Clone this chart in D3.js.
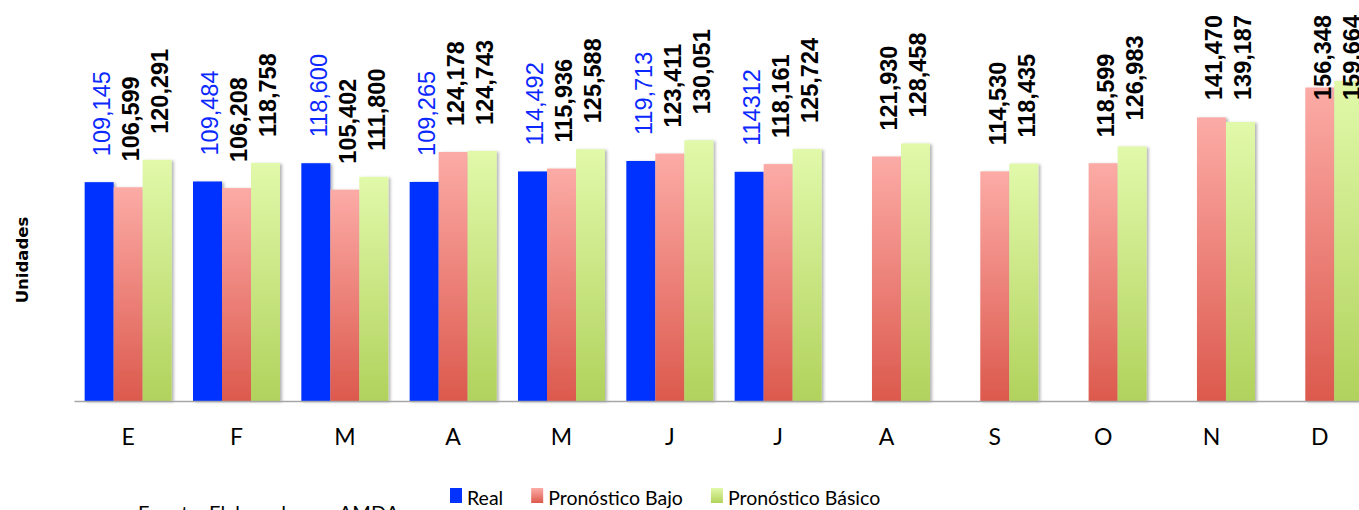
<!DOCTYPE html>
<html>
<head>
<meta charset="utf-8">
<script src="https://cdn.jsdelivr.net/npm/d3@7"></script>
<style>
  body { margin: 0; background: #fff; }
  svg { display: block; }
</style>
</head>
<body>
<svg width="1359" height="510"></svg>
<script>
// data
let months = ["E", "F", "M", "A", "M", "J", "J", "A", "S", "O", "N", "D"];
let real = [109145, 109484, 118600, 109265, 114492, 119713, 114312, null, null, null, null, null];
let bajo = [106599, 106208, 105402, 124178, 115936, 123411, 118161, 121930, 114530, 118599, 141470, 156348];
let basico = [120291, 118758, 111800, 124743, 125588, 130051, 125724, 128458, 118435, 126983, 139187, 159664];
let seriesNames = ["Real", "Pronóstico Bajo", "Pronóstico Básico"];

let svg = d3.select("svg"),
    left = 74,
    step = 108.33,
    baseY = 401;

let defs = svg.append("defs");

// gradients for the forecast bars
function gradient(id, top, bottom) {
    let g = defs.append("linearGradient").attr("id", id)
        .attr("x1", 0).attr("y1", 0).attr("x2", 0).attr("y2", 1);
    g.append("stop").attr("offset", "0%").attr("stop-color", top);
    g.append("stop").attr("offset", "100%").attr("stop-color", bottom);
}
gradient("gradRed", "#fcaba6", "#dc594d");
gradient("gradGreen", "#e1f9aa", "#b1d25c");

defs.append("filter").attr("id", "shadow")
    .attr("x", "-20%").attr("y", "-10%").attr("width", "140%").attr("height", "120%")
    .append("feDropShadow")
    .attr("dx", 2).attr("dy", 1).attr("stdDeviation", 1.5)
    .attr("flood-color", "#000").attr("flood-opacity", 0.3);

let fills = ["#0433ff", "url(#gradRed)", "url(#gradGreen)"];

let x0 = d3.scaleBand()
    .domain(d3.range(months.length))
    .range([left, left + step * months.length]);

let x1 = d3.scaleBand()
    .domain([0, 1, 2])
    .range([0, x0.bandwidth()])
    .paddingInner(0)
    .paddingOuter(0.368);

let y = d3.scaleLinear()
    .domain([0, 200000])
    .range([baseY, 0]);

let rows = months.map((m, i) => [real[i], bajo[i], basico[i]]);

let groups = svg.append("g").selectAll("g")
    .data(rows)
    .enter().append("g")
    .attr("transform", (d, i) => "translate(" + x0(i) + ",0)");

groups.selectAll("rect")
    .data(d => d.map((v, k) => ({ k: k, v: v })).filter(d => d.v != null))
    .enter().append("rect")
    .attr("x", d => x1(d.k))
    .attr("width", x1.bandwidth())
    .attr("y", d => y(d.v))
    .attr("height", d => baseY - y(d.v))
    .attr("fill", d => fills[d.k])
    .attr("filter", "url(#shadow)");

// value labels, rotated
let fmt = d3.format(",");
groups.selectAll("text")
    .data((d, i) => d.map((v, k) => ({ k: k, v: v, i: i })).filter(d => d.v != null))
    .enter().append("text")
    .attr("transform", d => "translate(" + (x1(d.k) + x1.bandwidth() / 2 + 11) + "," +
        Math.max(y(d.v) - 26, 100) + ") rotate(-90)")
    .style("font-family", "'Liberation Sans', Arial, sans-serif")
    .style("font-size", "23.5px")
    .style("font-weight", d => d.k == 0 ? "normal" : "bold")
    .style("fill", d => d.k == 0 ? "#0a28ff" : "#000")
    .text(d => (d.k == 0 && d.i == 6) ? String(d.v) : fmt(d.v));

// x axis
let xAxis = svg.append("g")
    .attr("transform", "translate(0," + baseY + ")")
    .call(d3.axisBottom(x0).tickSize(0).tickSizeOuter(0).tickFormat(i => months[i]));
xAxis.select(".domain").attr("stroke", "#a6a6a6").attr("stroke-width", 1.5);
xAxis.selectAll(".tick text")
    .attr("dy", null)
    .attr("y", 44)
    .style("font-family", "Lato, 'Open Sans', sans-serif")
    .style("font-size", "23px")
    .style("fill", "#000");

// y axis title
svg.append("text")
    .attr("transform", "translate(28,260) rotate(-90)")
    .style("text-anchor", "middle")
    .style("font-family", "'DejaVu Sans', Verdana, sans-serif")
    .style("font-weight", "bold")
    .style("font-size", "16.5px")
    .text("Unidades");

// legend
let legend = svg.append("g").attr("transform", "translate(450,0)");
let lx = 0;
seriesNames.forEach(function (name, k) {
    legend.append("rect")
        .attr("x", lx).attr("y", 488)
        .attr("width", 12).attr("height", 15)
        .attr("fill", fills[k]);
    let t = legend.append("text")
        .attr("x", lx + 17).attr("y", 505)
        .style("font-family", "Lato, 'Open Sans', sans-serif")
        .style("font-size", "19.5px")
        .text(name);
    lx += 17 + t.node().getComputedTextLength() + 28;
});

// source note (cut off by the frame)
svg.append("text")
    .attr("x", 138).attr("y", 520)
    .style("font-family", "Lato, 'Open Sans', sans-serif")
    .style("font-size", "20px")
    .text("Fuente: Elaborado con AMDA");
</script>
</body>
</html>
